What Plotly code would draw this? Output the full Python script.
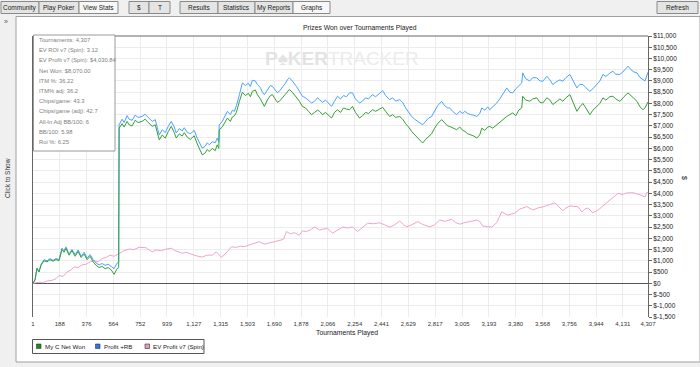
import plotly.graph_objects as go

# ---------------- data ----------------
gb_x = [1, 15, 29, 43, 57, 78, 99, 120, 141, 162, 183, 204, 218, 232, 253, 274, 296, 317, 338, 359,
        380, 401, 422, 443, 464, 485, 506, 527, 548, 569, 590, 601, 604, 625, 639, 660, 674, 695, 716,
        737, 765, 786, 808, 836, 857, 885, 906, 927, 948, 969, 990, 1004, 1025, 1046, 1060, 1081, 1102,
        1130, 1151, 1172, 1186, 1207, 1221, 1235, 1256, 1277, 1291, 1302, 1305, 1326, 1347, 1362, 1383,
        1397, 1411, 1425, 1446, 1467, 1488, 1509, 1523, 1537, 1558, 1572, 1593, 1607, 1621, 1642, 1663,
        1677, 1698, 1712, 1726, 1747, 1768, 1782, 1796, 1817, 1831, 1845, 1866, 1887, 1909, 1930, 1951,
        1972, 1993, 2007, 2028, 2049, 2070, 2091, 2112, 2133, 2154, 2175, 2196, 2217, 2238, 2259, 2287,
        2308, 2329, 2350, 2378, 2400, 2428, 2449, 2470, 2498, 2519, 2540, 2568, 2589, 2610, 2631, 2652,
        2673, 2694, 2715, 2729, 2750, 2771, 2792, 2813, 2834, 2862, 2883, 2904, 2918, 2939, 2967, 2989,
        3010, 3024, 3045, 3066, 3087, 3108, 3129, 3143, 3164, 3185, 3199, 3220, 3248, 3269, 3290, 3304,
        3318, 3339, 3360, 3381, 3402, 3423, 3430, 3451, 3479, 3500, 3528, 3550, 3571, 3599, 3620, 3641,
        3662, 3690, 3711, 3732, 3760, 3781, 3809, 3830, 3851, 3872, 3900, 3921, 3949, 3970, 3991, 4012,
        4040, 4061, 4082, 4110, 4139, 4167, 4188, 4209, 4230, 4251, 4272, 4286, 4307]

net_won = [0, 150, 650, 500, 800, 1000, 950, 1050, 980, 1060, 1000, 1500, 1380, 1560, 1250, 1450, 1200,
           1420, 1150, 1300, 1050, 1200, 950, 800, 700, 750, 650, 700, 600, 400, 650, 700, 6900, 7100,
           6950, 7200, 7050, 7000, 7250, 7150, 7200, 7300, 7150, 6980, 7050, 6380, 6600, 6450, 6750,
           6980, 6700, 6460, 6650, 6550, 6700, 6500, 6400, 6560, 6200, 5900, 5710, 5800, 5950, 5860,
           6000, 5900, 6160, 6000, 6830, 6950, 7200, 7350, 7200, 7400, 7450, 7600, 8090, 8500, 8350,
           8450, 8300, 8540, 8600, 8390, 8200, 8000, 7870, 8150, 8350, 8390, 8200, 8050, 8090, 8250,
           8450, 8550, 8620, 8500, 8400, 8300, 8100, 7870, 7800, 7650, 7500, 7600, 7700, 7650, 7500,
           7600, 7450, 7350, 7600, 7720, 7600, 7800, 7750, 7720, 7870, 7600, 7350, 7450, 7600, 7550,
           7720, 7650, 7750, 7830, 7650, 7420, 7500, 7380, 7420, 7300, 7100, 6950, 6750, 6600, 6450,
           6350, 6240, 6400, 6550, 6650, 6900, 7100, 7280, 7150, 7000, 6980, 6900, 6830, 6950, 6800,
           6760, 6650, 6600, 6550, 6460, 6600, 6900, 6800, 6950, 6980, 6900, 7050, 7150, 7300, 7350,
           7420, 7500, 7580, 7450, 7700, 7800, 8320, 8150, 8100, 8200, 8250, 8050, 8020, 8250, 8150,
           7950, 8050, 8200, 8100, 8250, 8390, 8100, 7650, 7850, 8000, 7800, 7500, 7700, 7870, 8000,
           8250, 8150, 8300, 8320, 8200, 8090, 8300, 8470, 8350, 8200, 8090, 7850, 7720, 7800, 8070]

profit_rb = [0, 150, 680, 520, 830, 1050, 1000, 1100, 1020, 1100, 1050, 1560, 1450, 1620, 1300, 1500,
             1280, 1480, 1200, 1380, 1120, 1280, 1050, 900, 820, 880, 800, 850, 750, 650, 900, 950, 7050,
             7300, 7150, 7460, 7300, 7250, 7480, 7380, 7420, 7520, 7380, 7200, 7280, 6600, 6830, 6700,
             6980, 7200, 6950, 6680, 6880, 6780, 6920, 6720, 6650, 6800, 6450, 6150, 6010, 6100, 6250,
             6160, 6300, 6250, 6460, 6300, 7050, 7200, 7500, 7650, 7500, 7700, 7650, 7900, 8390, 8910,
             8800, 8900, 8750, 9030, 9000, 8840, 8700, 8500, 8390, 8600, 8800, 8760, 8600, 8480, 8540,
             8700, 8900, 9050, 9140, 9000, 8850, 8760, 8550, 8320, 8250, 8150, 8020, 8100, 8250, 8170,
             8050, 8150, 8000, 7870, 8100, 8320, 8200, 8350, 8300, 8470, 8470, 8200, 8020, 8100, 8250,
             8200, 8390, 8300, 8450, 8570, 8350, 8170, 8250, 8100, 8170, 8050, 7800, 7600, 7420, 7300,
             7200, 7100, 7050, 7200, 7350, 7420, 7650, 7900, 8090, 7900, 7800, 7800, 7650, 7500, 7650,
             7550, 7650, 7550, 7500, 7480, 7420, 7550, 7800, 7700, 7850, 7720, 7850, 8020, 8200, 8400,
             8550, 8690, 8500, 8470, 8650, 8800, 8910, 9360, 9100, 9000, 9150, 9140, 9000, 8990, 9210,
             9050, 8840, 8950, 9050, 8990, 9150, 9290, 9000, 8690, 8850, 8840, 8700, 8540, 8650, 8840,
             9000, 9290, 9200, 9350, 9430, 9300, 9290, 9450, 9660, 9500, 9400, 9360, 9150, 9060, 9000,
             9390]

ev_x = [1, 22, 43, 71, 99, 134, 162, 183, 211, 239, 268, 289, 317, 345, 373, 401, 429, 457, 485, 513,
        541, 569, 604, 639, 674, 709, 744, 793, 815, 836, 864, 899, 934, 969, 997, 1025, 1046, 1074,
        1102, 1130, 1158, 1186, 1221, 1256, 1284, 1319, 1347, 1390, 1425, 1453, 1481, 1516, 1551, 1586,
        1621, 1656, 1691, 1726, 1754, 1775, 1803, 1831, 1866, 1887, 1916, 1944, 1972, 2007, 2035, 2063,
        2098, 2133, 2168, 2203, 2238, 2273, 2308, 2343, 2385, 2428, 2463, 2498, 2533, 2568, 2596, 2617,
        2652, 2694, 2729, 2778, 2813, 2848, 2890, 2932, 2960, 2989, 3024, 3059, 3108, 3129, 3150, 3185,
        3213, 3248, 3283, 3325, 3353, 3374, 3409, 3458, 3500, 3535, 3571, 3606, 3655, 3683, 3711, 3732,
        3760, 3788, 3816, 3844, 3865, 3886, 3921, 3956, 3991, 4019, 4040, 4069, 4097, 4125, 4160, 4202,
        4230, 4258, 4286, 4300, 4307]

ev_profit = [0, 30, 50, 20, 100, 130, 200, 350, 300, 500, 600, 730, 700, 820, 850, 950, 1000, 950, 1100,
             1150, 1250, 1200, 1340, 1450, 1520, 1500, 1600, 1580, 1480, 1400, 1480, 1450, 1520, 1560,
             1450, 1400, 1340, 1380, 1300, 1250, 1200, 1170, 1250, 1250, 1400, 1160, 1300, 1620, 1600,
             1650, 1630, 1700, 1750, 1850, 1740, 1800, 1830, 1890, 1950, 2300, 2200, 2250, 2140, 2330,
             2300, 2380, 2510, 2370, 2400, 2450, 2230, 2350, 2500, 2460, 2510, 2300, 2500, 2670, 2650,
             2690, 2600, 2500, 2600, 2770, 2600, 2510, 2600, 2740, 2620, 2510, 2600, 2810, 2760, 2850,
             2700, 2630, 2700, 2760, 2810, 2750, 2540, 2520, 2500, 2700, 3180, 3030, 3080, 3120, 3300,
             3410, 3260, 3350, 3400, 3480, 3580, 3400, 3230, 3350, 3440, 3420, 3410, 3170, 3300, 3350,
             3140, 3250, 3440, 3600, 3700, 3850, 4000, 3950, 4020, 4030, 3980, 3920, 3840, 4050, 4031]

x_ticks = [1, 188, 376, 564, 752, 939, 1127, 1315, 1503, 1690, 1878, 2066, 2254, 2441, 2629, 2817,
           3005, 3193, 3380, 3568, 3756, 3944, 4131, 4307]
x_tick_labels = ["1", "188", "376", "564", "752", "939", "1,127", "1,315", "1,503", "1,690", "1,878",
                 "2,066", "2,254", "2,441", "2,629", "2,817", "3,005", "3,193", "3,380", "3,568",
                 "3,756", "3,944", "4,131", "4,307"]
y_ticks = [11000, 10500, 10000, 9500, 9000, 8500, 8000, 7500, 7000, 6500, 6000, 5500, 5000, 4500,
           4000, 3500, 3000, 2500, 2000, 1500, 1000, 500, 0, -500, -1000, -1500]
y_tick_labels = ["$11,000", "$10,500", "$10,000", "$9,500", "$9,000", "$8,500", "$8,000", "$7,500",
                 "$7,000", "$6,500", "$6,000", "$5,500", "$5,000", "$4,500", "$4,000", "$3,500",
                 "$3,000", "$2,500", "$2,000", "$1,500", "$1,000", "$500", "$0", "$-500", "$-1,000",
                 "$-1,500"]

series_names = ["My C Net Won", "Profit +RB", "EV Profit v7 (Spin)"]
stats_lines = ["Tournaments: 4,307", "EV ROI v7 (Spin): 3.12", "EV Profit v7 (Spin): $4,030.84",
               "Net Won: $8,070.00", "ITM %: 36.22", "ITM% adj: 36.2", "Chips/game: 43.3",
               "Chips/game (adj): 42.7", "All-In Adj BB/100: 6", "BB/100: 5.98", "Roi %: 6.25"]
toolbar_groups = [["Community", "Play Poker", "View Stats"], ["$", "T"],
                  ["Results", "Statistics", "My Reports", "Graphs"]]

# ---------------- layout geometry ----------------
W, H = 700, 367
L, R, T, B = 33, 648, 36, 317
FONT = "Liberation Sans"

def px(x):
    return (x - L) / (R - L)

def py(y):
    return (B - y) / (B - T)

GREEN, BLUE, PINK = "#35a035", "#47a3ff", "#f2a3cc"

fig = go.Figure()
fig.add_trace(go.Scatter(x=ev_x, y=ev_profit, mode="lines", line=dict(color=PINK, width=1),
                         name=series_names[2], showlegend=False, hoverinfo="skip"))
fig.add_trace(go.Scatter(x=gb_x, y=profit_rb, mode="lines", line=dict(color=BLUE, width=1),
                         name=series_names[1], showlegend=False, hoverinfo="skip"))
fig.add_trace(go.Scatter(x=gb_x, y=net_won, mode="lines", line=dict(color=GREEN, width=1),
                         name=series_names[0], showlegend=False, hoverinfo="skip"))

shapes = []
ann = []

# window chrome
shapes.append(dict(type="rect", xref="paper", yref="paper", x0=px(16), x1=px(700), y0=py(362), y1=py(16.5),
                   fillcolor="white", line=dict(color="#a0a0a0", width=1), layer="below"))
ann.append(dict(x=px(6), y=py(22), xref="paper", yref="paper", text="»", showarrow=False,
                font=dict(family=FONT, size=7, color="#555"), xanchor="center", yanchor="middle"))
ann.append(dict(x=px(8), y=py(178), xref="paper", yref="paper", text="Click to Show", showarrow=False,
                textangle=-90, font=dict(family=FONT, size=6.5, color="#333"),
                xanchor="center", yanchor="middle"))

# toolbar buttons
group_edges = [[1, 39, 79, 118], [129, 149, 170], [180, 218, 255, 293, 330]]
selected = {"View Stats", "Graphs"}
for labels, edges in zip(toolbar_groups, group_edges):
    for i, lab in enumerate(labels):
        x0, x1 = edges[i], edges[i + 1]
        shapes.append(dict(type="rect", xref="paper", yref="paper", x0=px(x0), x1=px(x1),
                           y0=py(13.5), y1=py(1.5),
                           fillcolor="#f7f7f7" if lab in selected else "#e4e4e4",
                           line=dict(color="#8a8a8a", width=1), layer="below"))
        ann.append(dict(x=px((x0 + x1) / 2), y=py(7.5), xref="paper", yref="paper", text=lab,
                        showarrow=False, font=dict(family=FONT, size=6.5, color="#222"),
                        xanchor="center", yanchor="middle"))
shapes.append(dict(type="rect", xref="paper", yref="paper", x0=px(657), x1=px(698), y0=py(13.5),
                   y1=py(1.5), fillcolor="#e4e4e4", line=dict(color="#8a8a8a", width=1), layer="below"))
ann.append(dict(x=px(677.5), y=py(7.5), xref="paper", yref="paper", text="Refresh", showarrow=False,
                font=dict(family=FONT, size=6.5, color="#222"), xanchor="center", yanchor="middle"))

# plot frame top
shapes.append(dict(type="line", xref="paper", yref="paper", x0=0, x1=1, y0=1, y1=1,
                   line=dict(color="#666", width=1)))

# watermark
ann.append(dict(x=px(342), y=py(59), xref="paper", yref="paper",
                text="<span style='color:#e3e3e3'><b>P♠KER</b></span><span style='color:#ececec'>TRACKER</span>",
                showarrow=False, font=dict(family=FONT, size=19), xanchor="center", yanchor="middle"))

# stats box
shapes.append(dict(type="rect", xref="paper", yref="paper", x0=px(33.5), x1=px(115), y0=py(151),
                   y1=py(35), fillcolor="white", line=dict(color="#9a9a9a", width=1), layer="above"))
for i, s in enumerate(stats_lines):
    ann.append(dict(x=px(37), y=py(40 + i * 10.2), xref="paper", yref="paper", text=s, showarrow=False,
                    font=dict(family=FONT, size=5.8, color="#808080"), xanchor="left", yanchor="middle"))

# title and axis titles
ann.append(dict(x=px(360), y=py(28), xref="paper", yref="paper", text="Prizes Won over Tournaments Played",
                showarrow=False, font=dict(family=FONT, size=6.8, color="#222"),
                xanchor="center", yanchor="middle"))
ann.append(dict(x=px(347), y=py(332.5), xref="paper", yref="paper", text="Tournaments Played",
                showarrow=False, font=dict(family=FONT, size=6.8, color="#222"),
                xanchor="center", yanchor="middle"))
ann.append(dict(x=px(684), y=py(178), xref="paper", yref="paper", text="$", showarrow=False,
                textangle=90, font=dict(family=FONT, size=7, color="#222"),
                xanchor="center", yanchor="middle"))

# manual legend
shapes.append(dict(type="rect", xref="paper", yref="paper", x0=px(32.5), x1=px(204), y0=py(353.5),
                   y1=py(339.5), fillcolor="white", line=dict(color="#555", width=1)))
leg_items = [(36.5, 43, "#1c8a1c"), (95.5, 102, "#2a78e0"), (145, 151, "#e39cc8")]
for (sx, tx, col), name in zip(leg_items, series_names):
    shapes.append(dict(type="rect", xref="paper", yref="paper", x0=px(sx), x1=px(sx + 4.5),
                       y0=py(348.5), y1=py(344), fillcolor=col, line=dict(color="#333", width=0.6)))
    ann.append(dict(x=px(tx), y=py(346.3), xref="paper", yref="paper", text=name, showarrow=False,
                    font=dict(family=FONT, size=6.2, color="#222"), xanchor="left", yanchor="middle"))

fig.update_layout(
    width=W, height=H,
    margin=dict(l=L, r=W - R, t=T, b=H - B, pad=0),
    paper_bgcolor="#f0f0f0", plot_bgcolor="rgba(0,0,0,0)",
    showlegend=False,
    shapes=shapes, annotations=ann,
    xaxis=dict(range=[1, 4307], tickmode="array", tickvals=x_ticks, ticktext=x_tick_labels,
               showgrid=True, gridcolor="#ececec", gridwidth=1, zeroline=False, showline=False,
               ticks="", tickfont=dict(family=FONT, size=6, color="#333"), ticklabelstandoff=2,
               fixedrange=True),
    yaxis=dict(range=[-1500, 11000], side="right", tickmode="array", tickvals=y_ticks,
               ticktext=y_tick_labels, showgrid=True, gridcolor="#ececec", gridwidth=1,
               zeroline=True, zerolinecolor="#555", zerolinewidth=1,
               showline=True, linecolor="#666", linewidth=1, mirror=True,
               ticks="outside", ticklen=3, tickcolor="#666",
               tickfont=dict(family=FONT, size=6.5, color="#222"), fixedrange=True),
)

fig.write_html("out.html", config={"displayModeBar": False, "staticPlot": True},
               post_script="document.body.style.margin='0';document.body.style.overflow='hidden';")
